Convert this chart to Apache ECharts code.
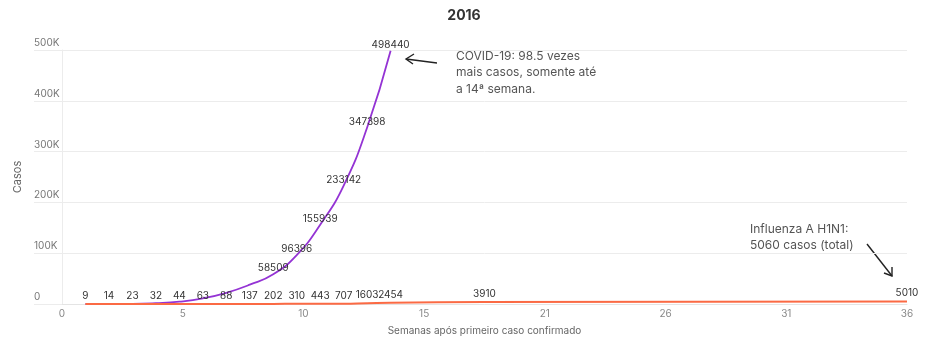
<!DOCTYPE html>
<html><head><meta charset="utf-8">
<script src="https://cdn.jsdelivr.net/npm/echarts@6/dist/echarts.min.js"></script>
<style>html,body{margin:0;padding:0;background:#fff}#c{width:928px;height:338px}</style>
</head><body><div id="c"></div>
<script>
const title = '2016';
const covidWeeks = [1,2,3,4,5,6,7,8,9,10,11,12,13,14];
const covidCases = [2,25,200,1600,4600,11000,22000,38000,58509,96396,155939,233142,347398,498440];
const h1n1Weeks = [1,2,3,4,5,6,7,8,9,10,11,12,13,14,18,36];
const h1n1Cases = [9,14,23,32,44,63,88,137,202,310,443,707,1603,2454,3910,5010];
const xTickLabels = ['0','5','10','15','21','26','31','36'];
const yTickLabels = ['0','100K','200K','300K','400K','500K'];
const covidNote = 'COVID-19: 98.5 vezes\nmais casos, somente até\na 14ª semana.';
const fluNote = 'Influenza A H1N1:\n5060 casos (total)';

const FONT = 'Inter, "Open Sans", sans-serif';
const chart = echarts.init(document.getElementById('c'), null, {renderer:'canvas'});
const pair = (xs, ys) => xs.map((x,i)=>[x, ys[i]]);
const grid = '#ececec';
chart.setOption({
  animation:false,
  textStyle:{fontFamily:FONT},
  title:{text:title,left:'center',top:4,textStyle:{fontFamily:FONT,fontSize:14,fontWeight:'bold',color:'#333'}},
  grid:{left:62,right:21,top:50,bottom:34,containLabel:false,outerBoundsMode:'none'},
  xAxis:{type:'value',min:0,max:36,interval:36/7,
    name:'Semanas após primeiro caso confirmado',nameLocation:'middle',nameGap:22,
    nameTextStyle:{fontFamily:FONT,fontSize:10,color:'#666'},
    axisLine:{show:true,lineStyle:{color:'#e4e4e4',width:1}},
    axisTick:{show:false},splitLine:{show:false},
    axisLabel:{color:'#888',fontSize:10,margin:5,formatter:(v,i)=>xTickLabels[i]}},
  yAxis:{type:'value',min:0,max:500000,interval:100000,
    name:'Casos',nameLocation:'middle',nameGap:36,
    nameTextStyle:{fontFamily:FONT,fontSize:11,color:'#666'},
    axisLine:{show:true,lineStyle:{color:'#ececec'}},
    axisTick:{show:true,length:28,lineStyle:{color:grid}},
    splitLine:{show:true,lineStyle:{color:grid}},
    axisLabel:{color:'#777',fontSize:10,align:'left',verticalAlign:'bottom',margin:28,padding:[0,0,2,0],
      formatter:(v,i)=>yTickLabels[i]}},
  series:[
    {type:'line',name:'COVID-19',data:pair(covidWeeks,covidCases),smooth:true,showSymbol:true,
      symbol:'circle',symbolSize:0,
      lineStyle:{color:'#9433d4',width:1.8},itemStyle:{color:'#9433d4'},
      label:{show:true,position:'top',distance:1,color:'#333',fontSize:10,
        formatter:p=>p.value[1]>=50000?String(p.value[1]):''}},
    {type:'line',name:'H1N1',data:pair(h1n1Weeks,h1n1Cases),smooth:true,showSymbol:true,
      symbol:'circle',symbolSize:0,
      lineStyle:{color:'#fb6a44',width:2},itemStyle:{color:'#fb6a44'},
      label:{show:true,position:'top',distance:3,color:'#333',fontSize:10,
        formatter:p=>String(p.value[1])}}
  ],
  graphic:[
    {type:'text',left:456,top:48,style:{text:covidNote,fontFamily:FONT,fontSize:12,lineHeight:16.5,fill:'#555'}},
    {type:'text',left:750,top:221,style:{text:fluNote,fontFamily:FONT,fontSize:12,lineHeight:16,fill:'#555'}},
    {type:'polyline',shape:{points:[[437,63],[406,59]]},style:{stroke:'#222',lineWidth:1.4,fill:null}},
    {type:'polyline',shape:{points:[[414,54],[406,59],[413,64]]},style:{stroke:'#222',lineWidth:1.4,fill:null}},
    {type:'polyline',shape:{points:[[867,244],[892,276]]},style:{stroke:'#222',lineWidth:1.4,fill:null}},
    {type:'polyline',shape:{points:[[892,267],[892,276],[884,273]]},style:{stroke:'#222',lineWidth:1.4,fill:null}}
  ]
});
</script></body></html>
